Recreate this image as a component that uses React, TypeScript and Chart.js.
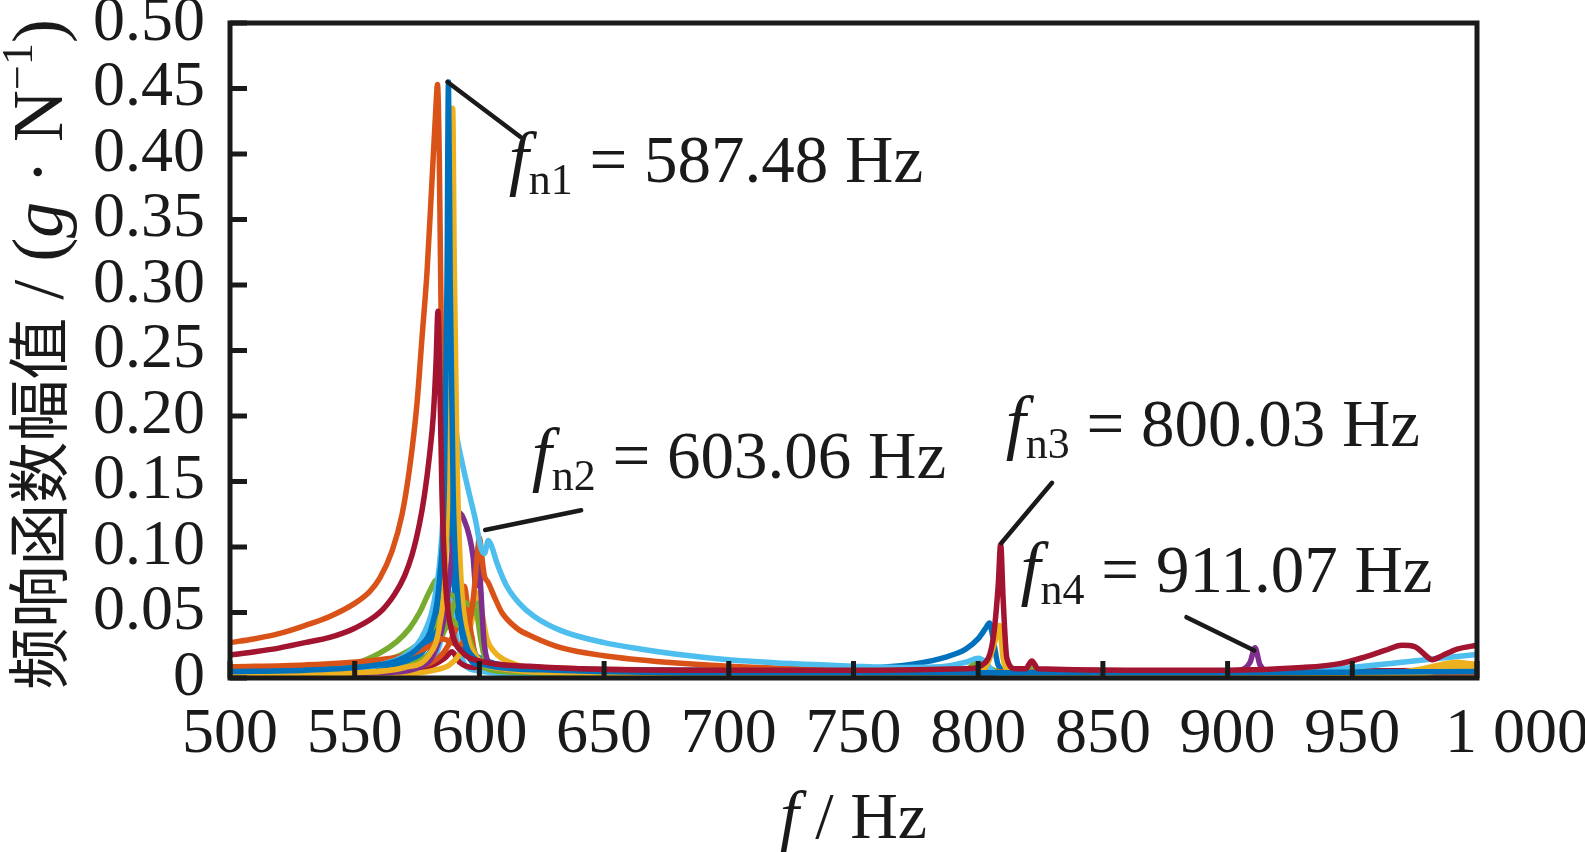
import React, { useEffect, useRef } from 'react';
import { Chart, registerables } from 'chart.js';

Chart.register(...registerables);

// ---------- data (frequency Hz, FRF amplitude g/N) ----------
const X_MIN = 500;
const X_MAX = 1000;
const X_STEP = 50;
const Y_MIN = 0;
const Y_MAX = 0.5;
const Y_STEP = 0.05;

const redBig: [number, number][] = [
  [500, 0.0176], [510, 0.02], [520, 0.023], [530, 0.027], [540, 0.031], [550, 0.038], [560, 0.05],
  [566, 0.064], [570, 0.078], [573, 0.094], [576, 0.118], [578, 0.14], [580, 0.17], [581.5, 0.2],
  [582.6, 0.24], [583.4, 0.28], [584, 0.24], [585, 0.14], [586.5, 0.07], [589, 0.035], [593, 0.02],
  [600, 0.013], [620, 0.009], [680, 0.006], [760, 0.006], [795, 0.007], [803, 0.012], [806, 0.03],
  [808, 0.07], [809, 0.102], [810, 0.06], [811.5, 0.015], [815, 0.007], [819, 0.007], [821.5, 0.013],
  [824, 0.007], [860, 0.006], [900, 0.006], [930, 0.008], [945, 0.011], [955, 0.016], [963, 0.021],
  [970, 0.025], [975, 0.024], [979, 0.018], [982, 0.014], [986, 0.017], [992, 0.022], [1000, 0.025],
];

const blueTall: [number, number][] = [
  [500, 0.005], [530, 0.006], [555, 0.009], [568, 0.014], [576, 0.024], [581, 0.04], [584, 0.075],
  [586, 0.15], [587, 0.3], [587.6, 0.455], [588.3, 0.3], [589.5, 0.14], [591, 0.07], [594, 0.03],
  [598, 0.015], [605, 0.009], [630, 0.006], [700, 0.004], [800, 0.004], [900, 0.004], [1000, 0.005],
];

const yellowTall: [number, number][] = [
  [500, 0.002], [550, 0.004], [570, 0.008], [580, 0.018], [584, 0.04], [586.5, 0.09], [588, 0.2],
  [588.8, 0.34], [589.3, 0.435], [589.9, 0.32], [591, 0.17], [592.5, 0.08], [595, 0.035], [599, 0.016],
  [606, 0.008], [640, 0.004], [750, 0.003], [800, 0.004], [804, 0.012], [807, 0.03], [808.5, 0.04],
  [810, 0.015], [813, 0.004], [900, 0.003], [980, 0.004], [990, 0.009], [1000, 0.006],
];

const cyanMain: [number, number][] = [
  [500, 0.003], [540, 0.006], [560, 0.01], [572, 0.02], [578, 0.035], [582, 0.06], [585, 0.11],
  [587, 0.2], [588, 0.25], [589, 0.22], [590.5, 0.19], [593, 0.165], [596, 0.14], [598.5, 0.12],
  [600.5, 0.1], [602, 0.095], [603.6, 0.105], [605, 0.1], [607, 0.088], [611, 0.07], [616, 0.057],
  [622, 0.047], [633, 0.036], [650, 0.027], [665, 0.022], [680, 0.018], [700, 0.014], [725, 0.011],
  [750, 0.009], [770, 0.008], [785, 0.0085], [795, 0.012], [800, 0.015], [803, 0.012], [806, 0.005],
  [812, 0.003], [880, 0.003], [930, 0.005], [950, 0.008], [970, 0.012], [985, 0.015], [1000, 0.018],
];

const orangeSecond: [number, number][] = [
  [500, 0.0085], [530, 0.01], [555, 0.013], [570, 0.017], [580, 0.024], [585, 0.03], [588, 0.028],
  [592, 0.025], [595, 0.035], [597.5, 0.06], [599, 0.09], [600, 0.107], [601, 0.092], [602, 0.078],
  [603.5, 0.073], [606, 0.062], [609, 0.05], [615, 0.038], [622, 0.031], [633, 0.023], [650, 0.017],
  [675, 0.012], [700, 0.009], [750, 0.006], [800, 0.0045], [900, 0.004], [1000, 0.004],
];

const purpleMain: [number, number][] = [
  [500, 0.002], [560, 0.004], [578, 0.01], [584, 0.03], [587, 0.06], [589, 0.095], [590.5, 0.12],
  [592, 0.126], [594, 0.12], [596, 0.108], [597.5, 0.092], [598.5, 0.07], [599.6, 0.1], [600.5, 0.07],
  [602, 0.025], [605, 0.01], [615, 0.006], [700, 0.004], [800, 0.004], [880, 0.004], [905, 0.006],
  [909, 0.012], [911, 0.023], [913, 0.01], [918, 0.004], [1000, 0.004],
];

const greenFirst: [number, number][] = [
  [500, 0.004], [530, 0.006], [550, 0.011], [560, 0.019], [567, 0.028], [572, 0.038], [576, 0.05],
  [580, 0.066], [583, 0.075], [585.5, 0.07], [588, 0.064], [591, 0.062], [594, 0.058], [597, 0.055],
  [599.5, 0.057], [601, 0.042], [602.5, 0.015], [605, 0.006], [630, 0.004], [780, 0.003], [795, 0.006],
  [801, 0.014], [804, 0.008], [815, 0.004], [820, 0.006], [822, 0.011], [824, 0.005], [900, 0.003],
  [1000, 0.003],
];

const greenSecond: [number, number][] = [
  [500, 0.003], [540, 0.006], [560, 0.012], [575, 0.025], [582, 0.04], [586, 0.05], [589, 0.045],
  [592, 0.04], [596, 0.046], [598.5, 0.052], [600.5, 0.03], [603, 0.01], [610, 0.005], [700, 0.003],
  [1000, 0.003],
];

const greenThird: [number, number][] = [
  [500, 0.002], [560, 0.005], [575, 0.012], [583, 0.025], [588, 0.045], [591, 0.06], [593, 0.05],
  [596, 0.03], [600, 0.012], [610, 0.005], [700, 0.003], [1000, 0.003],
];

const blueSecond: [number, number][] = [
  [500, 0.004], [550, 0.007], [570, 0.012], [578, 0.022], [583, 0.045], [586, 0.09], [587.5, 0.15],
  [588.5, 0.21], [589.5, 0.15], [591, 0.08], [594, 0.035], [598, 0.017], [605, 0.009], [650, 0.005],
  [800, 0.004], [1000, 0.004],
];

const blueThird: [number, number][] = [
  [500, 0.008], [530, 0.009], [555, 0.012], [570, 0.018], [578, 0.03], [582, 0.05], [585, 0.09],
  [586.5, 0.14], [587.3, 0.18], [588.3, 0.13], [590, 0.07], [593, 0.035], [597, 0.02], [603, 0.013],
  [620, 0.008], [680, 0.006], [740, 0.006], [760, 0.008], [775, 0.011], [787, 0.016], [795, 0.022],
  [800, 0.03], [803, 0.038], [804.5, 0.042], [806, 0.03], [808, 0.01], [812, 0.005], [900, 0.004],
  [1000, 0.005],
];

const blueFourth: [number, number][] = [
  [500, 0.003], [560, 0.006], [578, 0.015], [584, 0.035], [587, 0.06], [589.5, 0.09], [591, 0.06],
  [594, 0.025], [600, 0.01], [650, 0.004], [1000, 0.004],
];

const orangeThird: [number, number][] = [
  [500, 0.006], [550, 0.008], [570, 0.014], [578, 0.025], [582, 0.04], [585, 0.058], [586.5, 0.068],
  [588, 0.05], [590, 0.03], [592.5, 0.022], [595, 0.028], [596.5, 0.034], [598, 0.02], [601, 0.009],
  [610, 0.006], [700, 0.005], [1000, 0.004],
];

const orangeFourth: [number, number][] = [
  [500, 0.004], [570, 0.008], [585, 0.018], [590, 0.035], [592.5, 0.05], [594, 0.07], [595.5, 0.05],
  [598, 0.02], [605, 0.008], [700, 0.004], [1000, 0.004],
];

const yellowSecond: [number, number][] = [
  [500, 0.001], [570, 0.003], [582, 0.006], [588, 0.01], [592, 0.018], [595, 0.03], [597.5, 0.048],
  [599.5, 0.065], [601, 0.05], [603, 0.03], [606, 0.02], [609, 0.015], [615, 0.01], [630, 0.006],
  [700, 0.004], [800, 0.003], [960, 0.003], [975, 0.006], [985, 0.01], [992, 0.012], [1000, 0.01],
];

const redSecond: [number, number][] = [
  [500, 0.005], [560, 0.006], [580, 0.009], [586, 0.015], [589, 0.02], [592, 0.012], [598, 0.008],
  [602, 0.012], [605, 0.007], [650, 0.005], [800, 0.005], [900, 0.005], [1000, 0.006],
];

const cyanSecond: [number, number][] = [
  [500, 0.002], [560, 0.004], [578, 0.01], [584, 0.025], [587, 0.055], [588.5, 0.065], [590, 0.04],
  [593, 0.015], [598, 0.006], [620, 0.003], [800, 0.003], [900, 0.004], [1000, 0.006],
];

const orangeBig: [number, number][] = [
  [500, 0.027], [510, 0.03], [520, 0.034], [530, 0.04], [540, 0.047], [550, 0.057], [556, 0.066],
  [560, 0.076], [565, 0.097], [569, 0.125], [572, 0.16], [575, 0.21], [577, 0.26], [579, 0.31],
  [581, 0.38], [582.4, 0.43], [583.2, 0.453], [583.9, 0.4], [584.8, 0.25], [585.8, 0.12], [587.5, 0.055],
  [590, 0.03], [595, 0.018], [605, 0.011], [625, 0.008], [680, 0.006], [760, 0.005], [850, 0.005],
  [1000, 0.004],
];

// series drawing order: first = on top
const SERIES = [
  redBig, blueTall, yellowTall, cyanMain, orangeSecond, purpleMain, greenFirst, greenSecond,
  greenThird, blueSecond, blueThird, blueFourth, orangeThird, orangeFourth, yellowSecond,
  redSecond, cyanSecond, orangeBig,
];
const SERIES_COLORS = [
  '#A2142F', '#0072BD', '#EDB120', '#4DBEEE', '#D95319', '#7E2F8E', '#77AC30', '#77AC30',
  '#77AC30', '#0072BD', '#0072BD', '#0072BD', '#D95319', '#D95319', '#EDB120',
  '#A2142F', '#4DBEEE', '#D95319',
];

// annotation labels: natural frequencies
const ANN_SUBS = ['n1', 'n2', 'n3', 'n4'];
const ANN_VALUES = ['587.48', '603.06', '800.03', '911.07'];
// leader lines [from x, from y, to x, to y] in data coordinates
const ANN_LINES: [number, number, number, number][] = [
  [587.2, 0.455, 616.5, 0.413],
  [602.3, 0.113, 640.8, 0.128],
  [809.3, 0.103, 829.6, 0.149],
  [910.7, 0.021, 883.5, 0.0464],
];
// text anchor (left, baseline) in data coordinates
const ANN_TEXT_AT: [number, number][] = [
  [611.8, 0.379],
  [621.0, 0.153],
  [811.0, 0.177],
  [817.0, 0.0657],
];

const X_LABEL_1000 = '1 000';
const X_TITLE_F = 'f';
const X_TITLE_REST = ' / Hz';
const Y_TITLE_CN = '频响函数幅值';

// ---------- drawing helpers ----------
const SERIF = '"Liberation Serif", "Times New Roman", serif';
const CJK = '"Noto Sans CJK SC", sans-serif';
const INK = '#1a1a1a';

type Run = { text: string; font: string; dy?: number };

function runsWidth(ctx: CanvasRenderingContext2D, runs: Run[]) {
  let w = 0;
  for (const r of runs) {
    ctx.font = r.font;
    w += ctx.measureText(r.text).width;
  }
  return w;
}

function drawRuns(ctx: CanvasRenderingContext2D, runs: Run[], x: number, y: number) {
  let cx = x;
  for (const r of runs) {
    ctx.font = r.font;
    ctx.fillText(r.text, cx, y + (r.dy || 0));
    cx += ctx.measureText(r.text).width;
  }
}

const framePlugin = {
  id: 'frameAndNotes',
  afterDatasetsDraw(chart: any) {
    const { ctx, chartArea: a, scales } = chart;
    const xs = scales.x;
    const ys = scales.y;
    ctx.save();
    ctx.strokeStyle = INK;
    ctx.fillStyle = INK;
    ctx.lineWidth = 5;
    ctx.lineCap = 'butt';
    // inward ticks
    ctx.beginPath();
    xs.ticks.forEach((t: any) => {
      const px = xs.getPixelForValue(t.value);
      ctx.moveTo(px, a.bottom);
      ctx.lineTo(px, a.bottom - 17);
    });
    ys.ticks.forEach((t: any) => {
      const py = ys.getPixelForValue(t.value);
      ctx.moveTo(a.left, py);
      ctx.lineTo(a.left + 17, py);
    });
    ctx.stroke();
    // frame
    ctx.lineJoin = 'miter';
    ctx.strokeRect(a.left, a.top, a.right - a.left, a.bottom - a.top);

    // leader lines
    ctx.lineWidth = 4.5;
    ctx.lineCap = 'round';
    ANN_LINES.forEach(([x1, y1, x2, y2]) => {
      ctx.beginPath();
      ctx.moveTo(xs.getPixelForValue(x1), ys.getPixelForValue(y1));
      ctx.lineTo(xs.getPixelForValue(x2), ys.getPixelForValue(y2));
      ctx.stroke();
    });
    // labels
    ctx.textBaseline = 'alphabetic';
    ctx.textAlign = 'left';
    ANN_TEXT_AT.forEach(([tx, ty], i) => {
      const runs: Run[] = [
        { text: 'f', font: `italic 72px ${SERIF}` },
        { text: ANN_SUBS[i], font: `44px ${SERIF}`, dy: 12 },
        { text: ` = ${ANN_VALUES[i]} Hz`, font: `67px ${SERIF}` },
      ];
      drawRuns(ctx, runs, xs.getPixelForValue(tx), ys.getPixelForValue(ty));
    });
    ctx.restore();
  },
  afterDraw(chart: any) {
    const { ctx, chartArea: a } = chart;
    ctx.save();
    ctx.fillStyle = INK;
    ctx.textBaseline = 'alphabetic';
    ctx.textAlign = 'left';
    // x title
    const xr: Run[] = [
      { text: X_TITLE_F, font: `italic 68px ${SERIF}` },
      { text: X_TITLE_REST, font: `66px ${SERIF}` },
    ];
    const xw = runsWidth(ctx, xr);
    drawRuns(ctx, xr, (a.left + a.right) / 2 - xw / 2, 838);
    // y title (rotated)
    const yr: Run[] = [
      { text: Y_TITLE_CN, font: `62px ${CJK}` },
      { text: ' / (', font: `72px ${SERIF}` },
      { text: 'g', font: `italic 72px ${SERIF}` },
      { text: ' · N', font: `72px ${SERIF}` },
      { text: '−1', font: `44px ${SERIF}`, dy: -30 },
      { text: ')', font: `72px ${SERIF}` },
    ];
    const yw = runsWidth(ctx, yr);
    ctx.translate(62, (a.top + a.bottom) / 2 + 4);
    ctx.rotate(-Math.PI / 2);
    drawRuns(ctx, yr, -yw / 2, 0);
    ctx.restore();
  },
};

export default function App() {
  const ref = useRef<HTMLCanvasElement | null>(null);
  useEffect(() => {
    if (!ref.current) return;
    const datasets = SERIES.map((pts, i) => ({
      data: pts.map(([x, y]) => ({ x, y })),
      borderColor: SERIES_COLORS[i],
      backgroundColor: SERIES_COLORS[i],
      borderWidth: 5.5,
      pointRadius: 0,
      fill: false,
      cubicInterpolationMode: 'monotone' as const,
      borderJoinStyle: 'round' as const,
      borderCapStyle: 'round' as const,
    }));
    const chart = new Chart(ref.current, {
      type: 'line',
      data: { datasets },
      plugins: [framePlugin],
      options: {
        animation: false,
        responsive: true,
        maintainAspectRatio: false,
        layout: { padding: { left: 0, top: 23, right: 108, bottom: 0 } },
        plugins: { legend: { display: false }, tooltip: { enabled: false } },
        scales: {
          x: {
            type: 'linear',
            min: X_MIN,
            max: X_MAX,
            grid: { display: false, drawTicks: false },
            border: { display: false },
            ticks: {
              stepSize: X_STEP,
              autoSkip: false,
              maxRotation: 0,
              padding: 19,
              color: INK,
              font: { family: SERIF, size: 64 },
              // the last label sits to the right of its tick, as in the original
              callback: (v: any) => (Number(v) === X_MAX ? '     ' + X_LABEL_1000 : String(v)),
            },
            afterFit: (s: any) => {
              s.height = 174;
              s.paddingLeft = 0;
              s.paddingRight = 0;
            },
          },
          y: {
            type: 'linear',
            min: Y_MIN,
            max: Y_MAX,
            grid: { display: false, drawTicks: false },
            border: { display: false },
            ticks: {
              stepSize: Y_STEP,
              autoSkip: false,
              padding: 25,
              color: INK,
              font: { family: SERIF, size: 64 },
              callback: (v: any) => (Number(v) === 0 ? '0' : Number(v).toFixed(2)),
            },
            afterFit: (s: any) => {
              s.width = 230;
              s.paddingTop = 0;
              s.paddingBottom = 0;
            },
          },
        },
      },
    });
    return () => chart.destroy();
  }, []);
  return (
    <div style={{ position: 'fixed', left: 0, top: 0, width: 1585, height: 852, background: '#fff' }}>
      <canvas ref={ref} />
    </div>
  );
}
